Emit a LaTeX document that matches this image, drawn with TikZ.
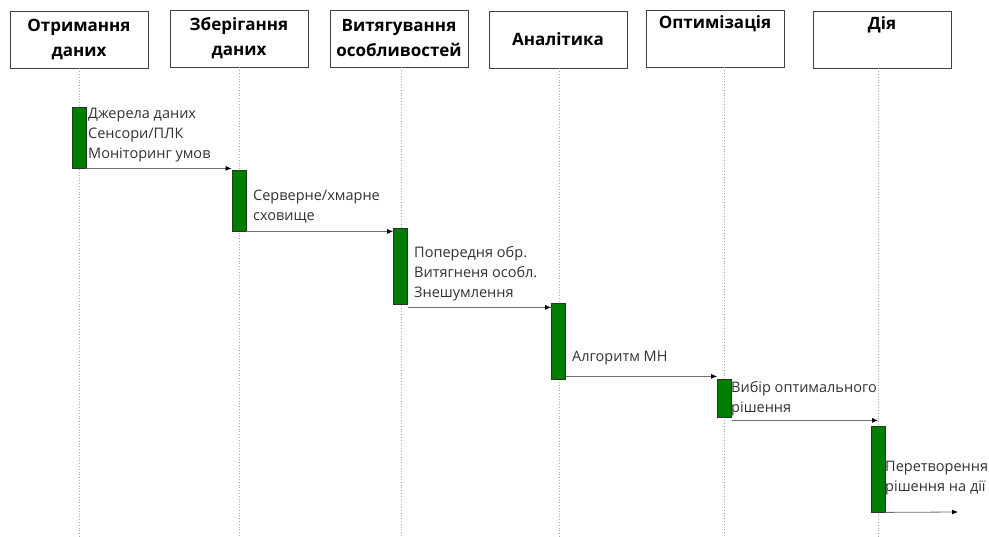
\documentclass[tikz,border=0pt]{standalone}
\usepackage{fontspec}
\setmainfont{Open Sans}
\usetikzlibrary{arrows.meta}
\definecolor{barfill}{RGB}{0,125,0}
\definecolor{bardraw}{RGB}{30,60,30}
\definecolor{msgline}{RGB}{110,110,110}
\definecolor{labeltext}{RGB}{50,50,50}
\begin{document}
\begin{tikzpicture}[x=1pt,y=-1pt,
  head/.style={draw=black!75, line width=0.8pt, minimum width=138pt, minimum height=57pt,
    inner sep=0pt, align=center, font=\bfseries\fontsize{17}{25}\selectfont},
  lifeline/.style={draw=black!35, line width=0.8pt, dotted},
  actbar/.style={draw=bardraw, fill=barfill, line width=0.8pt, minimum width=14pt, inner sep=0pt},
  msg/.style={draw=msgline, line width=0.8pt, -{Latex[length=6pt,width=5pt,black]}},
  note/.style={anchor=north west, inner sep=0pt, align=left, text=labeltext,
    font=\fontsize{14.5}{20}\selectfont}
]
\useasboundingbox[fill=white] (0,0) rectangle (989,537);

% participants
\node[head] (h1) at (79,39.5) {Отримання\\даних};
\node[head] (h2) at (239,38.5) {Зберігання\\даних};
\node[head] (h3) at (399,38.5) {Витягування\\особливостей};
\node[head] (h4) at (558,39.5) {Аналітика};
\node[head] (h5) at (715,38.5) {Оптимізація\\\strut};
\node[head] (h6) at (882,39.5) {Дія\\\strut};

% lifelines
\foreach \h/\x in {h1/79,h2/239,h3/401,h4/559,h5/724,h6/878}
  \draw[lifeline] (\x,0 |- \h.south) -- (\x,537);

% activation bars
\node[actbar, minimum height=61pt] (b1) at (79,137.5) {};
\node[actbar, minimum height=61pt] (b2) at (239,200.5) {};
\node[actbar, minimum height=76pt] (b3) at (400.5,266) {};
\node[actbar, minimum height=76pt] (b4) at (558.5,341) {};
\node[actbar, minimum height=38pt] (b5) at (724.5,398) {};
\node[actbar, minimum height=86pt] (b6) at (878,469) {};

% messages (yshift is in page direction: negative moves down)
\draw[msg] (b1.south east) -- (b1.south east -| b2.west);
\draw[msg] (b2.south east) -- (b2.south east -| b3.west);
\draw[msg] ([yshift=-3pt]b3.south east) -- ([yshift=-3pt]b3.south east -| b4.west);
\draw[msg] ([yshift=3pt]b4.south east) -- ([yshift=3pt]b4.south east -| b5.west);
\draw[msg] ([yshift=-3pt]b5.south east) -- ([yshift=-3pt]b5.south east -| b6.center);
\coordinate (out) at (958,512);
\draw[msg] (b6.south east) -- (out);

% step descriptions
\node[note] (n1) at (88,108) {Джерела даних\\Сенсори/ПЛК\\Моніторинг умов};
\node[note] (n2) at (253,190) {Серверне/хмарне\\сховище};
\node[note] (n3) at (414,246) {Попередня обр.\\Витягненя особл.\\Знешумлення};
\node[note] (n4) at (572,351) {Алгоритм МН};
\node[note] (n5) at (731,381) {Вибір оптимального\\рішення};
\node[note] (n6) at (885,461) {Перетворення\\рішення на дії};
\end{tikzpicture}
\end{document}
